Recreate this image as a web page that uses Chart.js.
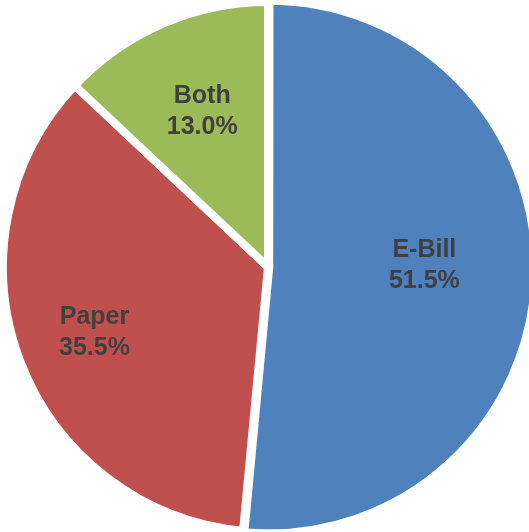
<!DOCTYPE html>
<html>
<head>
<meta charset="utf-8">
<script src="https://cdn.jsdelivr.net/npm/chart.js@4/dist/chart.umd.min.js"></script>
<style>
    html, body { margin: 0; padding: 0; background: #ffffff; }
    #wrap { width: 529px; height: 532px; position: relative; }
</style>
</head>
<body>
<div id="wrap"><canvas id="myChart"></canvas></div>
<script>
const categories = ["E-Bill", "Paper", "Both"];
const shares = [51.5, 35.5, 13.0];
const sliceColors = ["#4F81BD", "#C0504D", "#9BBB59"];

// draws "name / xx.x%" inside each slice
const sliceLabels = {
    id: "sliceLabels",
    afterDatasetsDraw(chart, args, opts) {
        const ctx = chart.ctx;
        const meta = chart.getDatasetMeta(0);
        ctx.save();
        ctx.font = "bold 25px 'Liberation Sans', Arial, sans-serif";
        ctx.fillStyle = "#404040";
        ctx.textAlign = "center";
        ctx.textBaseline = "middle";
        meta.data.forEach((arc, i) => {
            const p = arc.getProps(["x", "y", "startAngle", "endAngle", "outerRadius"], true);
            const mid = (p.startAngle + p.endAngle) / 2 + (opts.angleShift[i] || 0);
            const r = p.outerRadius * opts.radius[i];
            const x = p.x + Math.cos(mid) * r;
            const y = p.y + Math.sin(mid) * r;
            ctx.fillText(chart.data.labels[i], x, y - 15);
            ctx.fillText(chart.data.datasets[0].data[i].toFixed(1) + "%", x, y + 16);
        });
        ctx.restore();
    }
};

const ctx = document.getElementById("myChart").getContext("2d");
const chart = new Chart(ctx, {
    type: "pie",
    data: {
        labels: categories,
        datasets: [{
            data: shares,
            backgroundColor: sliceColors,
            borderColor: "#ffffff",
            borderWidth: 8,
            offset: [5, 0, 0],
            hoverOffset: 0,
            clip: false
        }]
    },
    options: {
        responsive: true,
        maintainAspectRatio: false,
        animation: false,
        radius: 265,
        layout: {
            padding: { left: 7, right: 0, top: 2, bottom: 0 }
        },
        plugins: {
            legend: { display: false },
            tooltip: { enabled: false },
            sliceLabels: {
                radius: [0.59, 0.7, 0.64],
                angleShift: [-0.06, 0, 0.01]
            }
        }
    },
    plugins: [sliceLabels]
});
</script>
</body>
</html>
